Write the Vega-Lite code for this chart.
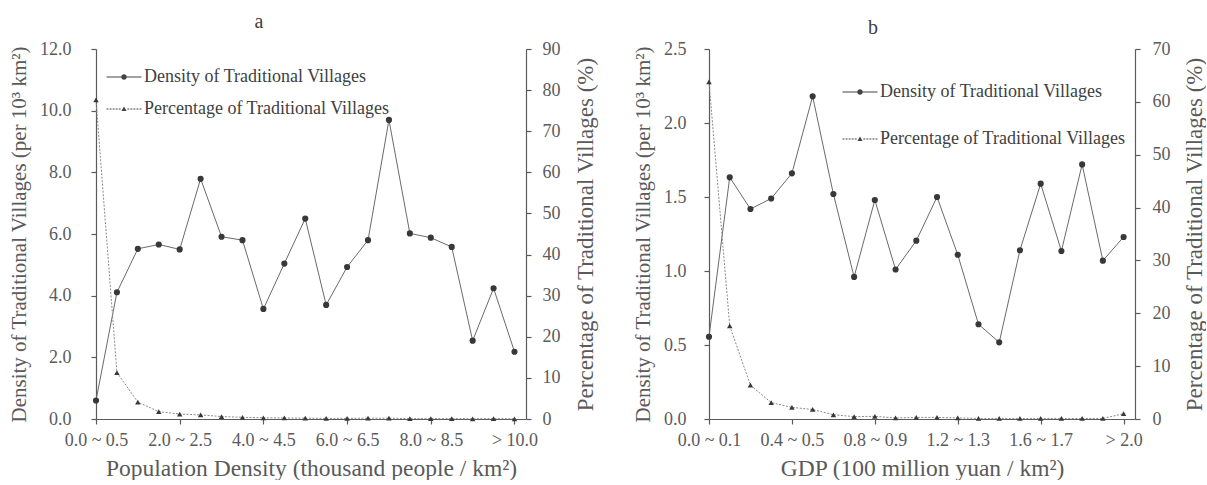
{
  "$schema": "https://vega.github.io/schema/vega-lite/v6.json",
  "background": "white",
  "padding": {"left": 8, "top": 12, "right": 0, "bottom": 0},
  "config": {
    "font": "Liberation Serif",
    "view": {"stroke": null},
    "axis": {
      "grid": false,
      "domainColor": "#5a5a5a",
      "tickColor": "#5a5a5a",
      "labelColor": "#5a5a5a",
      "titleColor": "#5a5a5a",
      "labelFont": "Liberation Serif",
      "titleFont": "Liberation Serif",
      "labelFontSize": 18,
      "titleFontSize": 21,
      "titleFontWeight": "normal",
      "tickSize": 5,
      "domainWidth": 1.2,
      "tickWidth": 1.2
    },
    "axisX": {"titleFontSize": 23.5},
    "axisRight": {"titleFontSize": 23},
    "title": {"font": "Liberation Serif", "fontSize": 20, "fontWeight": "normal", "color": "#404040"},
    "legend": {"labelFont": "Liberation Serif", "labelFontSize": 18, "labelColor": "#404040", "labelLimit": 0}
  },
  "datasets": {
    "a": [
      {"range": "0.0 ~ 0.5", "i": 0, "density": 0.60, "pct": 77.6},
      {"range": "0.5 ~ 1.0", "i": 1, "density": 4.11, "pct": 11.3},
      {"range": "1.0 ~ 1.5", "i": 2, "density": 5.52, "pct": 4.1},
      {"range": "1.5 ~ 2.0", "i": 3, "density": 5.66, "pct": 1.8},
      {"range": "2.0 ~ 2.5", "i": 4, "density": 5.50, "pct": 1.2},
      {"range": "2.5 ~ 3.0", "i": 5, "density": 7.79, "pct": 1.0},
      {"range": "3.0 ~ 3.5", "i": 6, "density": 5.91, "pct": 0.6},
      {"range": "3.5 ~ 4.0", "i": 7, "density": 5.80, "pct": 0.4},
      {"range": "4.0 ~ 4.5", "i": 8, "density": 3.57, "pct": 0.3},
      {"range": "4.5 ~ 5.0", "i": 9, "density": 5.04, "pct": 0.25},
      {"range": "5.0 ~ 5.5", "i": 10, "density": 6.50, "pct": 0.2},
      {"range": "5.5 ~ 6.0", "i": 11, "density": 3.70, "pct": 0.15},
      {"range": "6.0 ~ 6.5", "i": 12, "density": 4.93, "pct": 0.15},
      {"range": "6.5 ~ 7.0", "i": 13, "density": 5.80, "pct": 0.2},
      {"range": "7.0 ~ 7.5", "i": 14, "density": 9.70, "pct": 0.2},
      {"range": "7.5 ~ 8.0", "i": 15, "density": 6.02, "pct": 0.1},
      {"range": "8.0 ~ 8.5", "i": 16, "density": 5.88, "pct": 0.1},
      {"range": "8.5 ~ 9.0", "i": 17, "density": 5.58, "pct": 0.1},
      {"range": "9.0 ~ 9.5", "i": 18, "density": 2.54, "pct": 0.05},
      {"range": "9.5 ~ 10.0", "i": 19, "density": 4.24, "pct": 0.1},
      {"range": "> 10.0", "i": 20, "density": 2.18, "pct": 0.05}
    ],
    "b": [
      {"range": "0.0 ~ 0.1", "i": 0, "density": 0.556, "pct": 63.8},
      {"range": "0.1 ~ 0.2", "i": 1, "density": 1.633, "pct": 17.6},
      {"range": "0.2 ~ 0.3", "i": 2, "density": 1.419, "pct": 6.4},
      {"range": "0.3 ~ 0.4", "i": 3, "density": 1.49, "pct": 3.1},
      {"range": "0.4 ~ 0.5", "i": 4, "density": 1.66, "pct": 2.2},
      {"range": "0.5 ~ 0.6", "i": 5, "density": 2.18, "pct": 1.8},
      {"range": "0.6 ~ 0.7", "i": 6, "density": 1.52, "pct": 0.8},
      {"range": "0.7 ~ 0.8", "i": 7, "density": 0.96, "pct": 0.45},
      {"range": "0.8 ~ 0.9", "i": 8, "density": 1.48, "pct": 0.5},
      {"range": "0.9 ~ 1.0", "i": 9, "density": 1.01, "pct": 0.2},
      {"range": "1.0 ~ 1.1", "i": 10, "density": 1.205, "pct": 0.3},
      {"range": "1.1 ~ 1.2", "i": 11, "density": 1.50, "pct": 0.3},
      {"range": "1.2 ~ 1.3", "i": 12, "density": 1.11, "pct": 0.2},
      {"range": "1.3 ~ 1.4", "i": 13, "density": 0.64, "pct": 0.1},
      {"range": "1.4 ~ 1.5", "i": 14, "density": 0.518, "pct": 0.1},
      {"range": "1.5 ~ 1.6", "i": 15, "density": 1.14, "pct": 0.1},
      {"range": "1.6 ~ 1.7", "i": 16, "density": 1.59, "pct": 0.1},
      {"range": "1.7 ~ 1.8", "i": 17, "density": 1.135, "pct": 0.1},
      {"range": "1.8 ~ 1.9", "i": 18, "density": 1.72, "pct": 0.1},
      {"range": "1.9 ~ 2.0", "i": 19, "density": 1.07, "pct": 0.1},
      {"range": "> 2.0", "i": 20, "density": 1.23, "pct": 1.0}
    ]
  },
  "resolve": {"scale": {"shape": "independent"}, "legend": {"shape": "independent"}},
  "spacing": 35,
  "hconcat": [
    {
      "width": 430,
      "height": 370,
      "title": {"text": "a", "dx": -52, "offset": 8},
      "data": {"name": "a"},
      "encoding": {
        "x": {
          "field": "i",
          "type": "quantitative",
          "scale": {"domain": [0, 20.55], "nice": false, "zero": false},
          "axis": {
            "values": [0, 4, 8, 12, 16, 20],
            "labelExpr": "datum.value == 20 ? '> 10.0' : format(datum.value * 0.5, '.1f') + ' ~ ' + format(datum.value * 0.5 + 0.5, '.1f')",
            "title": "Population Density (thousand people / km²)",
            "labelPadding": 7,
            "titlePadding": 7,
            "labelFlush": false,
            "labelOverlap": false
          }
        }
      },
      "layer": [
        {
          "encoding": {
            "y": {
              "field": "density",
              "type": "quantitative",
              "scale": {"domain": [0, 12], "nice": false},
              "axis": {
                "values": [0, 2, 4, 6, 8, 10, 12],
                "format": ".1f",
                "title": "Density of Traditional Villages (per 10³ km²)",
                "labelPadding": 20,
                "titlePadding": 10
              }
            }
          },
          "layer": [
            {"mark": {"type": "line", "color": "#6a6a6a", "strokeWidth": 1}},
            {"mark": {"type": "point", "shape": "circle", "filled": true, "size": 38, "color": "#383838", "opacity": 1}},
            {
              "mark": {"type": "point", "filled": true, "color": "#444444", "opacity": 0},
              "encoding": {
                "shape": {
                  "datum": "Density of Traditional Villages",
                  "scale": {
                    "domain": ["Density of Traditional Villages", "Percentage of Traditional Villages"],
                    "range": [
                      "M-2,-0.06L-0.3,-0.06L-0.3,0.06L-2,0.06ZM0.3,-0.06L2,-0.06L2,0.06L0.3,0.06ZM0.32,0A0.32,0.32 0 1 1 -0.32,0A0.32,0.32 0 1 1 0.32,0Z",
                      "M-2,-0.06L-1.78,-0.06L-1.78,0.06L-2,0.06ZM-1.65,-0.06L-1.43,-0.06L-1.43,0.06L-1.65,0.06ZM-1.3,-0.06L-1.08,-0.06L-1.08,0.06L-1.3,0.06ZM-0.95,-0.06L-0.73,-0.06L-0.73,0.06L-0.95,0.06ZM-0.6,-0.06L-0.38,-0.06L-0.38,0.06L-0.6,0.06ZM0.38,-0.06L0.6,-0.06L0.6,0.06L0.38,0.06ZM0.73,-0.06L0.95,-0.06L0.95,0.06L0.73,0.06ZM1.08,-0.06L1.3,-0.06L1.3,0.06L1.08,0.06ZM1.43,-0.06L1.65,-0.06L1.65,0.06L1.43,0.06ZM1.78,-0.06L2,-0.06L2,0.06L1.78,0.06ZM-0.3,0.24L0,-0.3L0.3,0.24Z"
                    ]
                  },
                  "legend": {
                    "orient": "none",
                    "legendX": 19,
                    "legendY": 19,
                    "title": null,
                    "padding": 0,
                    "symbolSize": 306,
                    "symbolOpacity": 1,
                    "symbolFillColor": "#444444",
                    "symbolStrokeWidth": 0,
                    "rowPadding": 14,
                    "labelOffset": 11
                  }
                }
              }
            }
          ]
        },
        {
          "encoding": {
            "y": {
              "field": "pct",
              "type": "quantitative",
              "scale": {"domain": [0, 90], "nice": false},
              "axis": {
                "orient": "right",
                "values": [0, 10, 20, 30, 40, 50, 60, 70, 80, 90],
                "format": "d",
                "title": "Percentage of Traditional Villages (%)",
                "titleAngle": 270,
                "titleBaseline": "top",
                "labelPadding": 11,
                "titlePadding": 14
              }
            }
          },
          "layer": [
            {"mark": {"type": "line", "color": "#8a8a8a", "strokeWidth": 1, "strokeDash": [2, 1.5]}},
            {"mark": {"type": "point", "shape": "triangle-up", "filled": true, "size": 30, "color": "#383838", "opacity": 1}},
            {
              "mark": {"type": "point", "filled": true, "color": "#444444", "opacity": 0},
              "encoding": {"shape": {"datum": "Percentage of Traditional Villages"}}
            }
          ]
        }
      ],
      "resolve": {"scale": {"y": "independent"}}
    },
    {
      "width": 426,
      "height": 370,
      "title": {"text": "b", "dx": -49, "offset": 2},
      "data": {"name": "b"},
      "encoding": {
        "x": {
          "field": "i",
          "type": "quantitative",
          "scale": {"domain": [0, 20.55], "nice": false, "zero": false},
          "axis": {
            "values": [0, 4, 8, 12, 16, 20],
            "labelExpr": "datum.value == 20 ? '> 2.0' : format(datum.value * 0.1, '.1f') + ' ~ ' + format(datum.value * 0.1 + 0.1, '.1f')",
            "title": "GDP (100 million yuan / km²)",
            "labelPadding": 7,
            "titlePadding": 7,
            "labelFlush": false,
            "labelOverlap": false
          }
        }
      },
      "layer": [
        {
          "encoding": {
            "y": {
              "field": "density",
              "type": "quantitative",
              "scale": {"domain": [0, 2.5], "nice": false},
              "axis": {
                "values": [0, 0.5, 1, 1.5, 2, 2.5],
                "format": ".1f",
                "title": "Density of Traditional Villages (per 10³ km²)",
                "labelPadding": 18,
                "titlePadding": 10
              }
            }
          },
          "layer": [
            {"mark": {"type": "line", "color": "#6a6a6a", "strokeWidth": 1}},
            {"mark": {"type": "point", "shape": "circle", "filled": true, "size": 38, "color": "#383838", "opacity": 1}},
            {
              "mark": {"type": "point", "filled": true, "color": "#444444", "opacity": 0},
              "encoding": {
                "shape": {
                  "datum": "Density of Traditional Villages",
                  "scale": {
                    "domain": ["Density of Traditional Villages", "Percentage of Traditional Villages"],
                    "range": [
                      "M-2,-0.06L-0.3,-0.06L-0.3,0.06L-2,0.06ZM0.3,-0.06L2,-0.06L2,0.06L0.3,0.06ZM0.32,0A0.32,0.32 0 1 1 -0.32,0A0.32,0.32 0 1 1 0.32,0Z",
                      "M-2,-0.06L-1.78,-0.06L-1.78,0.06L-2,0.06ZM-1.65,-0.06L-1.43,-0.06L-1.43,0.06L-1.65,0.06ZM-1.3,-0.06L-1.08,-0.06L-1.08,0.06L-1.3,0.06ZM-0.95,-0.06L-0.73,-0.06L-0.73,0.06L-0.95,0.06ZM-0.6,-0.06L-0.38,-0.06L-0.38,0.06L-0.6,0.06ZM0.38,-0.06L0.6,-0.06L0.6,0.06L0.38,0.06ZM0.73,-0.06L0.95,-0.06L0.95,0.06L0.73,0.06ZM1.08,-0.06L1.3,-0.06L1.3,0.06L1.08,0.06ZM1.43,-0.06L1.65,-0.06L1.65,0.06L1.43,0.06ZM1.78,-0.06L2,-0.06L2,0.06L1.78,0.06ZM-0.3,0.24L0,-0.3L0.3,0.24Z"
                    ]
                  },
                  "legend": {
                    "orient": "none",
                    "legendX": 142,
                    "legendY": 34,
                    "title": null,
                    "padding": 0,
                    "symbolSize": 306,
                    "symbolOpacity": 1,
                    "symbolFillColor": "#444444",
                    "symbolStrokeWidth": 0,
                    "rowPadding": 29,
                    "labelOffset": 11
                  }
                }
              }
            }
          ]
        },
        {
          "encoding": {
            "y": {
              "field": "pct",
              "type": "quantitative",
              "scale": {"domain": [0, 70], "nice": false},
              "axis": {
                "orient": "right",
                "values": [0, 10, 20, 30, 40, 50, 60, 70],
                "format": "d",
                "title": "Percentage of Traditional Villages (%)",
                "titleAngle": 270,
                "titleBaseline": "top",
                "labelPadding": 12,
                "titlePadding": 13
              }
            }
          },
          "layer": [
            {"mark": {"type": "line", "color": "#8a8a8a", "strokeWidth": 1, "strokeDash": [2, 1.5]}},
            {"mark": {"type": "point", "shape": "triangle-up", "filled": true, "size": 30, "color": "#383838", "opacity": 1}},
            {
              "mark": {"type": "point", "filled": true, "color": "#444444", "opacity": 0},
              "encoding": {"shape": {"datum": "Percentage of Traditional Villages"}}
            }
          ]
        }
      ],
      "resolve": {"scale": {"y": "independent"}}
    }
  ]
}
